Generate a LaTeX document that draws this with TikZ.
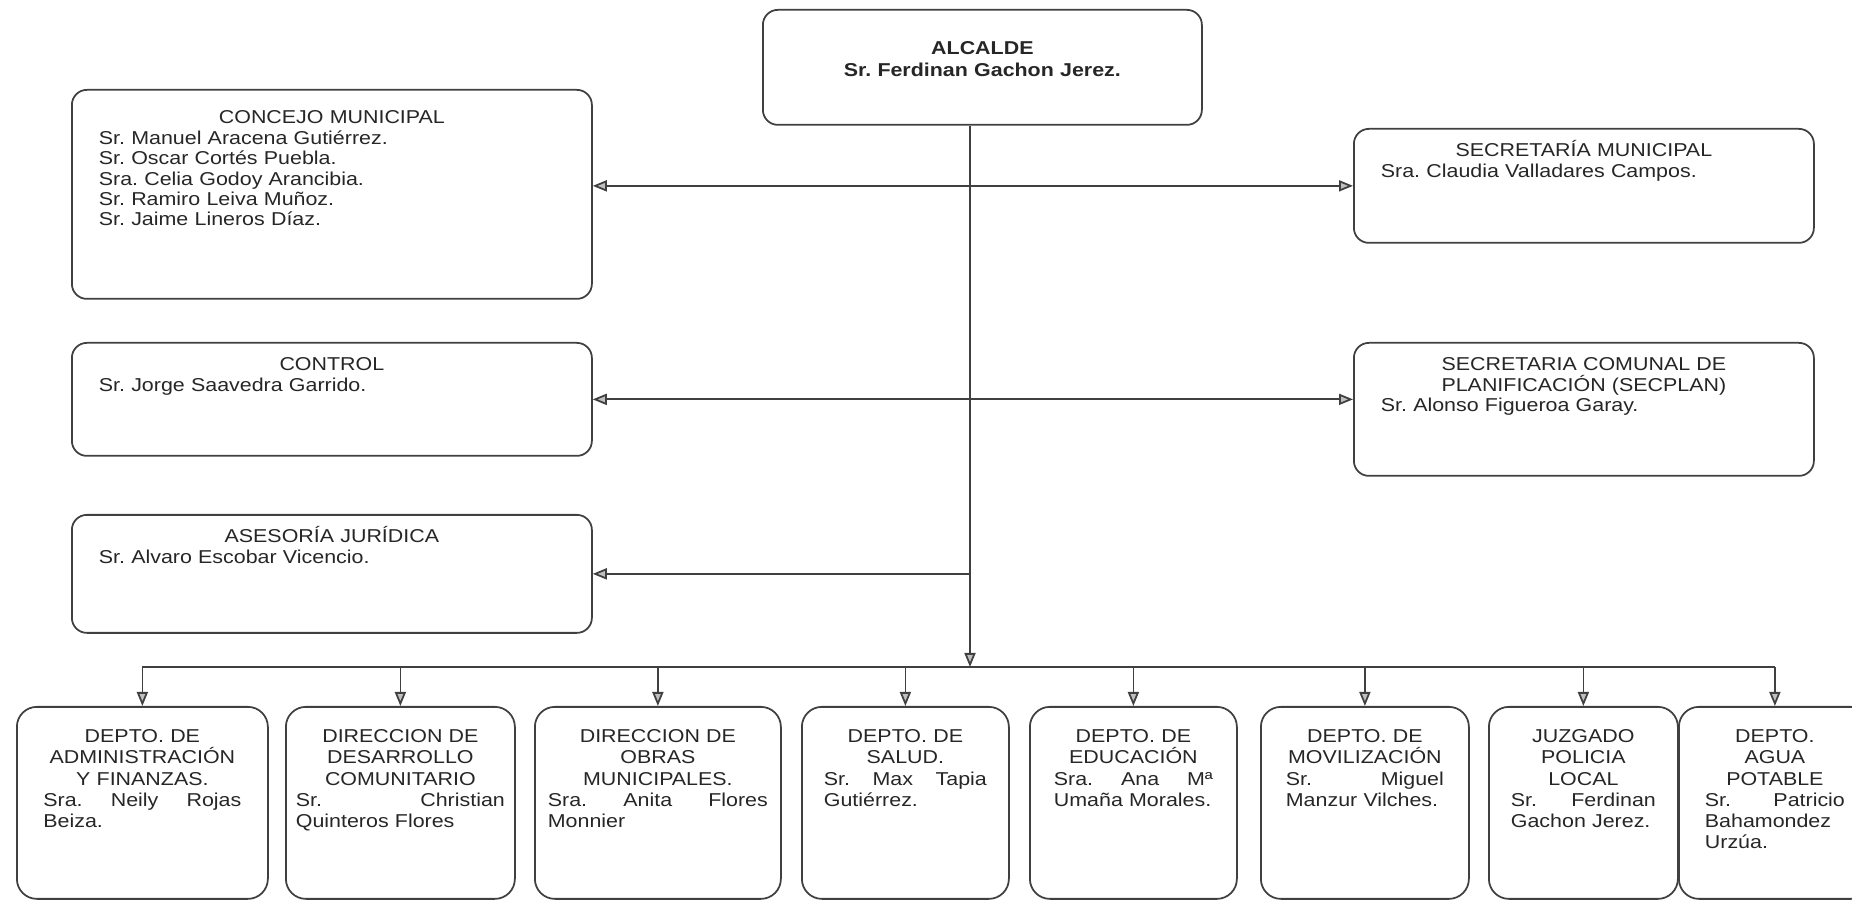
\documentclass[tikz,border=0pt]{standalone}
\usepackage{fontspec}
\setmainfont{Liberation Sans}[FakeStretch=1.15]
\usetikzlibrary{arrows.meta}
\frenchspacing
\begin{document}
\begin{tikzpicture}
    [
    x=0.1mm,y=-0.1mm,
    font=\fontsize{5.3}{5.8}\selectfont,
    card/.style={draw=black!75,line width=0.5pt,anchor=north west,align=left,
      inner ysep=0pt,text=black!85},
    office/.style={card,rounded corners=1.5mm,inner xsep=2.7mm,text height=2.8mm},
    dept/.style={card,rounded corners=2mm,text height=3.6mm,text depth=15.6mm,
      font=\fontsize{5.3}{6}\selectfont},
    link/.style={draw=black!75,line width=0.5pt},
    tip/.style={-{Triangle[length=1.4mm,width=1.1mm,fill=black!25]}},
    both/.style={{Triangle[length=1.4mm,width=1.1mm,fill=black!25]}-{Triangle[length=1.4mm,width=1.1mm,fill=black!25]}}
    ]
    \useasboundingbox (0,0) rectangle (1852,901);
    % upper level
    \node (alcalde) at (762,9) [office,align=center,text width=38.5mm,text height=4.5mm,
      text depth=7mm,font=\fontsize{5.3}{6.2}\selectfont\bfseries]
      {ALCALDE\\ Sr. Ferdinan Gachon Jerez.};
    \node (concejo) at (71,89) [office,text width=46.6mm,text height=3.4mm,text depth=17.5mm]
      {{\centering CONCEJO MUNICIPAL\par}Sr. Manuel Aracena Gutiérrez.\\
       Sr. Oscar Cortés Puebla.\\ Sra. Celia Godoy Arancibia.\\
       Sr. Ramiro Leiva Muñoz.\\ Sr. Jaime Lineros Díaz.};
    \node (secmun) at (1353,128) [office,text width=40.6mm,text depth=8.6mm]
      {{\centering SECRETARÍA MUNICIPAL\par}Sra. Claudia Valladares Campos.};
    \node (control) at (71,342) [office,text width=46.6mm,text depth=8.5mm]
      {{\centering CONTROL\par}Sr. Jorge Saavedra Garrido.};
    \node (secplan) at (1353,342) [office,text width=40.6mm,text depth=10.5mm]
      {{\centering SECRETARIA COMUNAL DE\\ PLANIFICACIÓN (SECPLAN)\par}Sr. Alonso Figueroa Garay.};
    \node (asesoria) at (71,514) [office,text width=46.6mm,text depth=9mm]
      {{\centering ASESORÍA JURÍDICA\par}Sr. Alvaro Escobar Vicencio.};
    % departments
    \node (b1) at (16,706) [dept,inner xsep=2.65mm,text width=19.8mm]
      {{\centering DEPTO. DE\\ ADMINISTRACIÓN\\ Y FINANZAS.\par}Sra.\hfill Neily\hfill Rojas\\ Beiza.};
    \node (b2) at (285,706) [dept,inner xsep=1mm,text width=20.9mm]
      {{\centering DIRECCION DE\\ DESARROLLO\\ COMUNITARIO\par}Sr.\hfill Christian\\ Quinteros Flores};
    \node (b3) at (534,706) [dept,inner xsep=1.3mm,text width=22mm]
      {{\centering DIRECCION DE\\ OBRAS\\ MUNICIPALES.\par}Sra.\hfill Anita\hfill Flores\\ Monnier};
    \node (b4) at (801,706) [dept,inner xsep=2.2mm,text width=16.3mm]
      {{\centering DEPTO. DE\\ SALUD.\par}Sr.\hfill Max\hfill Tapia\\ Gutiérrez.};
    \node (b5) at (1029,706) [dept,inner xsep=2.4mm,text width=15.9mm]
      {{\centering DEPTO. DE\\ EDUCACIÓN\par}Sra.\hfill Ana\hfill Mª\\ Umaña Morales.};
    \node (b6) at (1260,706) [dept,inner xsep=2.5mm,text width=15.8mm]
      {{\centering DEPTO. DE\\ MOVILIZACIÓN\par}Sr.\hfill Miguel\\ Manzur Vilches.};
    \node (b7) at (1488,706) [dept,inner xsep=2.2mm,text width=14.5mm]
      {{\centering JUZGADO\\ POLICIA\\ LOCAL\par}Sr.\hfill Ferdinan\\ Gachon Jerez.};
    \node (b8) at (1678,706) [dept,inner xsep=2.6mm,text width=14mm]
      {{\centering DEPTO.\\ AGUA\\ POTABLE\par}Sr.\hfill Patricio\\ Bahamondez\\ Urzúa.};
    \coordinate (trunk) at (970,667);
    % connectors
    \draw [link,tip] (alcalde.south -| trunk) to (trunk);
    \draw [link,both] (concejo.east |- secmun.west) to (secmun.west);
    \draw [link,both] (control.east) to (control.east -| secplan.west);
    \draw [link,tip] (asesoria.east -| trunk) to (asesoria.east);
    \draw [link] (b1.north |- trunk) to (b8.north |- trunk);
    \draw [link,tip] (b1.north |- trunk) to (b1.north);
    \draw [link,tip] (b2.north |- trunk) to (b2.north);
    \draw [link,tip] (b3.north |- trunk) to (b3.north);
    \draw [link,tip] (b4.north |- trunk) to (b4.north);
    \draw [link,tip] (b5.north |- trunk) to (b5.north);
    \draw [link,tip] (b6.north |- trunk) to (b6.north);
    \draw [link,tip] (b7.north |- trunk) to (b7.north);
    \draw [link,tip] (b8.north |- trunk) to (b8.north);
\end{tikzpicture}
\end{document}
